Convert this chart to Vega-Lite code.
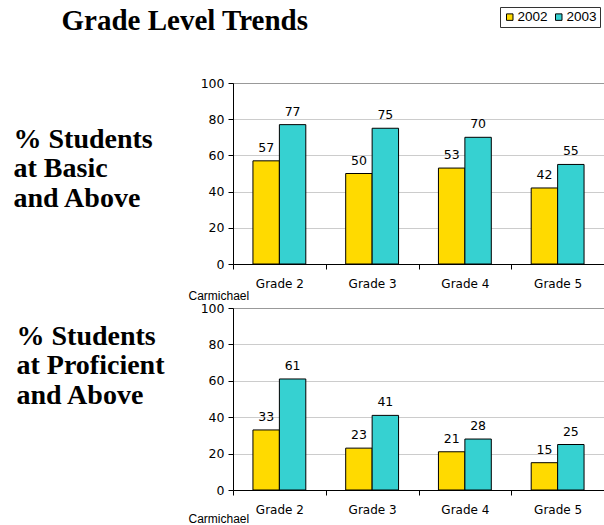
{
  "$schema": "https://vega.github.io/schema/vega-lite/v6.json",
  "background": "white",
  "padding": {"left": 12, "top": 6, "right": 0, "bottom": 0},
  "title": {"text": "Grade Level Trends", "font": "Liberation Serif", "fontSize": 29, "fontWeight": "bold", "color": "black", "anchor": "start", "frame": "bounds", "dx": 49, "offset": -29},
  "datasets": {
    "basic": [
      {"grade": "Grade 2", "year": "2002", "value": 57},
      {"grade": "Grade 2", "year": "2003", "value": 77},
      {"grade": "Grade 3", "year": "2002", "value": 50},
      {"grade": "Grade 3", "year": "2003", "value": 75},
      {"grade": "Grade 4", "year": "2002", "value": 53},
      {"grade": "Grade 4", "year": "2003", "value": 70},
      {"grade": "Grade 5", "year": "2002", "value": 42},
      {"grade": "Grade 5", "year": "2003", "value": 55}
    ],
    "prof": [
      {"grade": "Grade 2", "year": "2002", "value": 33},
      {"grade": "Grade 2", "year": "2003", "value": 61},
      {"grade": "Grade 3", "year": "2002", "value": 23},
      {"grade": "Grade 3", "year": "2003", "value": 41},
      {"grade": "Grade 4", "year": "2002", "value": 21},
      {"grade": "Grade 4", "year": "2003", "value": 28},
      {"grade": "Grade 5", "year": "2002", "value": 15},
      {"grade": "Grade 5", "year": "2003", "value": 25}
    ]
  },
  "spacing": -1,
  "vconcat": [
    {
      "data": {"name": "basic"},
      "width": 371,
      "height": 181,
      "encoding": {
        "x": {"field": "grade", "type": "nominal", "scale": {"paddingInner": 0, "paddingOuter": 0},
          "axis": {"title": "Carmichael", "titleX": -45, "titleY": 35, "titleAlign": "left", "titleBaseline": "alphabetic", "titleFont": "Liberation Sans", "titleFontSize": 12, "titleFontWeight": "normal", "labelAngle": 0, "tickBand": "extent", "tickSize": 5, "labelPadding": 9, "labelFontSize": 12}},
        "xOffset": {"field": "year", "type": "nominal", "scale": {"paddingOuter": 0.755, "paddingInner": 0}},
        "y": {"field": "value", "type": "quantitative", "scale": {"domain": [0, 100]},
          "axis": {"values": [0, 20, 40, 60, 80, 100], "title": ["% Students", "at Basic", "and Above"], "titleAngle": 0, "titleAlign": "left", "titleBaseline": "alphabetic", "titleX": -220, "titleY": 64, "titleLineHeight": 29.5, "titleFont": "Liberation Serif", "titleFontSize": 28, "titleFontWeight": "bold", "labelFontSize": 12.5, "tickSize": 5, "labelPadding": 4,
            "gridColor": {"condition": {"test": "datum.value === 100", "value": "#999999"}, "value": "#cccccc"}}}
      },
      "layer": [
        {"mark": {"type": "bar", "stroke": "black", "strokeWidth": 1},
          "encoding": {"color": {"field": "year", "type": "nominal", "scale": {"domain": ["2002", "2003"], "range": ["#FFDA00", "#36D1D1"]},
            "legend": {"orient": "none", "legendX": 267, "legendY": -76, "direction": "horizontal", "title": null, "symbolType": "square", "symbolSize": 42, "symbolStrokeColor": "black", "symbolStrokeWidth": 1, "labelFont": "Liberation Sans", "labelFontSize": 13.5, "labelColor": "black", "strokeColor": "#333333", "fillColor": "white", "padding": 3, "columnPadding": 4, "labelOffset": 1}}}},
        {"mark": {"type": "text", "baseline": "alphabetic", "align": "center", "dy": -9, "font": "DejaVu Sans", "fontSize": 12.5, "color": "black"},
          "encoding": {"text": {"field": "value", "type": "quantitative"}}}
      ]
    },
    {
      "data": {"name": "prof"},
      "width": 371,
      "height": 182,
      "encoding": {
        "x": {"field": "grade", "type": "nominal", "scale": {"paddingInner": 0, "paddingOuter": 0},
          "axis": {"title": "Carmichael", "titleX": -45, "titleY": 32, "titleAlign": "left", "titleBaseline": "alphabetic", "titleFont": "Liberation Sans", "titleFontSize": 12, "titleFontWeight": "normal", "labelAngle": 0, "tickBand": "extent", "tickSize": 5, "labelPadding": 9, "labelFontSize": 12}},
        "xOffset": {"field": "year", "type": "nominal", "scale": {"paddingOuter": 0.755, "paddingInner": 0}},
        "y": {"field": "value", "type": "quantitative", "scale": {"domain": [0, 100]},
          "axis": {"values": [0, 20, 40, 60, 80, 100], "title": ["% Students", "at Proficient", "and Above"], "titleAngle": 0, "titleAlign": "left", "titleBaseline": "alphabetic", "titleX": -217, "titleY": 36, "titleLineHeight": 29.5, "titleFont": "Liberation Serif", "titleFontSize": 28, "titleFontWeight": "bold", "labelFontSize": 12.5, "tickSize": 5, "labelPadding": 4,
            "gridColor": {"condition": {"test": "datum.value === 100", "value": "#999999"}, "value": "#cccccc"}}}
      },
      "layer": [
        {"mark": {"type": "bar", "stroke": "black", "strokeWidth": 1},
          "encoding": {"color": {"field": "year", "type": "nominal", "scale": {"domain": ["2002", "2003"], "range": ["#FFDA00", "#36D1D1"]}}}},
        {"mark": {"type": "text", "baseline": "alphabetic", "align": "center", "dy": -9, "font": "DejaVu Sans", "fontSize": 12.5, "color": "black"},
          "encoding": {"text": {"field": "value", "type": "quantitative"}}}
      ]
    }
  ],
  "config": {
    "view": {"stroke": "#999999", "strokeWidth": 1},
    "axis": {"labelFont": "DejaVu Sans", "labelColor": "black", "domainColor": "black", "tickColor": "black", "titleColor": "black", "domainWidth": 1, "tickWidth": 1}
  }
}
